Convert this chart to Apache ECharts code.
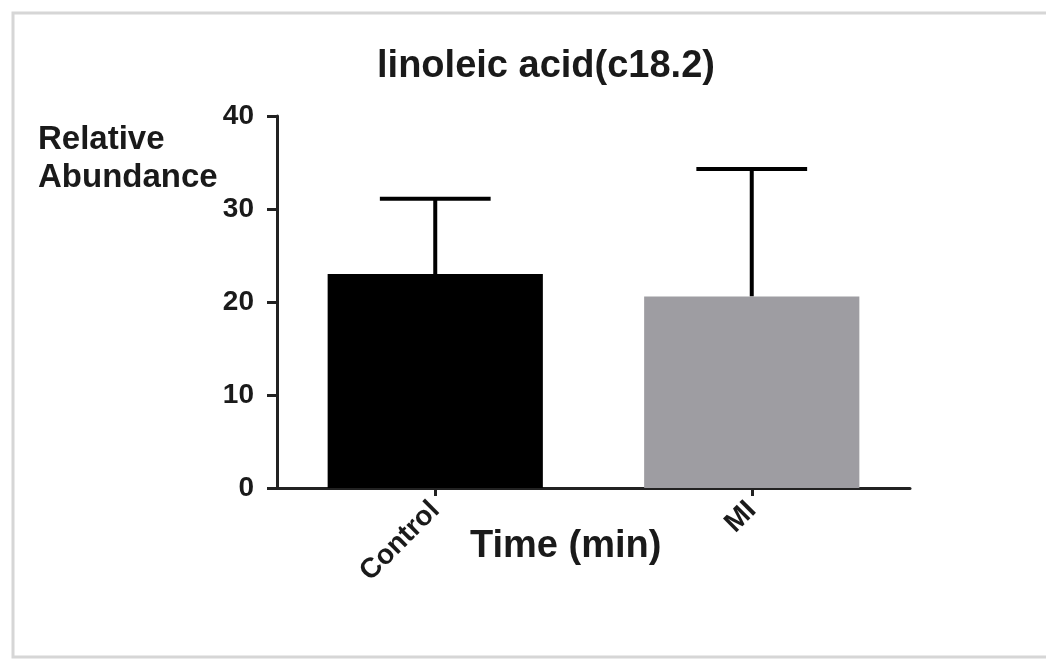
<!DOCTYPE html>
<html>
<head>
<meta charset="utf-8">
<style>
html,body{margin:0;padding:0;background:#fff;}
#chart{width:1046px;height:660px;}
</style>
<script src="https://cdn.jsdelivr.net/npm/echarts@6/dist/echarts.min.js"></script>
</head>
<body>
<div id="chart"></div>
<script>
var categories = ['Control', 'MI'];
var means = [23.0, 20.6];
var errorUpper = [31.1, 34.3];
var barColors = ['#000000', '#9e9da2'];
var yTicks = [0, 10, 20, 30, 40];

var FONT = '"Liberation Sans", Arial, sans-serif';
var chart = echarts.init(document.getElementById('chart'));

var option = {
  backgroundColor: '#ffffff',
  animation: false,
  title: {
    text: 'linoleic acid(c18.2)',
    left: 541, top: 43, textAlign: 'center',
    textStyle: { fontFamily: FONT, fontSize: 38, fontWeight: 'bold', color: '#1a1a1a' }
  },
  graphic: [
    { type: 'rect', shape: { x: 13, y: 13, width: 1100, height: 644 },
      style: { fill: 'none', stroke: '#d6d6d6', lineWidth: 3 }, silent: true },
    { type: 'text', left: 38, top: 121,
      style: { text: 'Relative\nAbundance', fontFamily: FONT, fontSize: 33, fontWeight: 'bold',
               fill: '#1a1a1a', lineHeight: 38 } },
    { type: 'text', left: 470, top: 528,
      style: { text: 'Time (min)', fontFamily: FONT, fontSize: 38, fontWeight: 'bold', fill: '#1a1a1a' } }
  ],
  grid: { left: 277, right: 136, top: 116, bottom: 172, containLabel: false },
  xAxis: {
    type: 'category', data: categories,
    axisLine: { lineStyle: { color: '#222', width: 3 } },
    axisTick: { show: true, alignWithLabel: true, length: 8, lineStyle: { color: '#222', width: 3 } },
    axisLabel: { rotate: 45, fontFamily: FONT, fontSize: 28, fontWeight: 'bold', color: '#1a1a1a', margin: 18 }
  },
  yAxis: {
    type: 'value', min: 0, max: 40, interval: 10,
    splitLine: { show: false },
    axisLine: { show: true, lineStyle: { color: '#222', width: 3 } },
    axisTick: { show: true, length: 10, lineStyle: { color: '#222', width: 3 } },
    axisLabel: { fontFamily: FONT, fontSize: 28, fontWeight: 'bold', color: '#1a1a1a', margin: 23,
                 formatter: function (v) { return yTicks.indexOf(v) >= 0 ? String(v) : ''; } }
  },
  series: [
    {
      type: 'bar', barWidth: '68%',
      data: means.map(function (v, i) { return { value: v, itemStyle: { color: barColors[i] } }; }),
      z: 2
    },
    {
      type: 'custom', z: 1,
      data: means.map(function (v, i) { return [i, v, errorUpper[i]]; }),
      renderItem: function (params, api) {
        var base = api.coord([api.value(0), api.value(1)]);
        var top = api.coord([api.value(0), api.value(2)]);
        var band = api.size([1, 0])[0];
        var half = band * 0.175;
        var st = { stroke: '#000', lineWidth: 4 };
        return {
          type: 'group',
          children: [
            { type: 'line', shape: { x1: base[0], y1: base[1], x2: top[0], y2: top[1] }, style: st },
            { type: 'line', shape: { x1: top[0] - half, y1: top[1], x2: top[0] + half, y2: top[1] }, style: st }
          ]
        };
      }
    }
  ]
};
chart.setOption(option);
</script>
</body>
</html>
